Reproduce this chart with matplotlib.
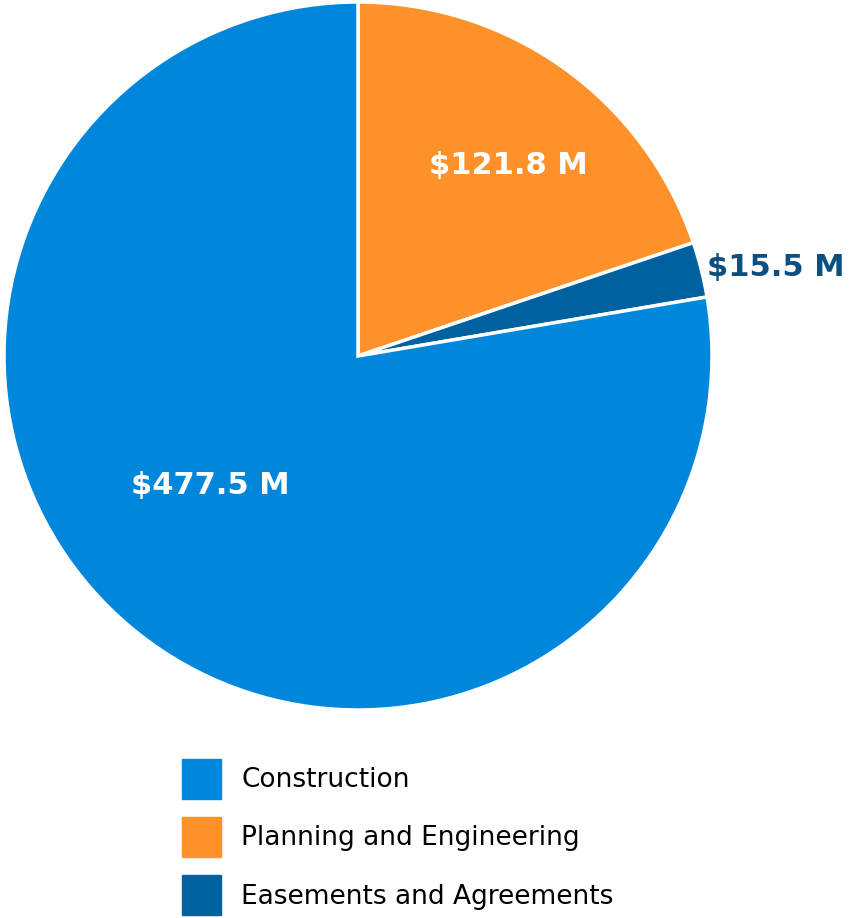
import matplotlib
matplotlib.use("Agg")
import matplotlib.pyplot as plt
import matplotlib.patches as mpatches

categories = ["Planning and Engineering", "Easements and Agreements", "Construction"]
values = [121.8, 15.5, 477.5]
labels = ["$121.8 M", "$15.5 M", "$477.5 M"]
colors = ["#FF912B", "#0060A0", "#0087DC"]
legend_order = ["Construction", "Planning and Engineering", "Easements and Agreements"]

plt.rcParams['font.family'] = ['DejaVu Sans']

fig = plt.figure(figsize=(8.51, 9.18), dpi=100)
ax = fig.add_axes([4 / 851, 1 - 710 / 918, 708 / 851, 708 / 918])
wedges, _ = ax.pie(values, colors=colors, startangle=90, counterclock=False,
                   wedgeprops=dict(edgecolor="white", linewidth=2.5))
ax.set_xlim(-1, 1)
ax.set_ylim(-1, 1)
ax.set_aspect("equal")

# label placement in units of the pie radius
ax.text(0.424, 0.537, labels[0], color="white", fontsize=22, fontweight="bold",
        ha="center", va="center")
ax.text(0.986, 0.249, labels[1], color="#0B4F80", fontsize=22, fontweight="bold",
        ha="left", va="center")
ax.text(-0.418, -0.367, labels[2], color="white", fontsize=22, fontweight="bold",
        ha="center", va="center")

handles = [mpatches.Patch(color=colors[categories.index(n)], label=n) for n in legend_order]
fig.legend(handles=handles, loc="upper left", bbox_to_anchor=(182 / 851, 1 - 759 / 918),
           frameon=False, fontsize=19, handlelength=1.48, handleheight=1.95,
           handletextpad=0.76, labelspacing=0.69, borderpad=0, borderaxespad=0)

fig.savefig("out.png", dpi=100)
